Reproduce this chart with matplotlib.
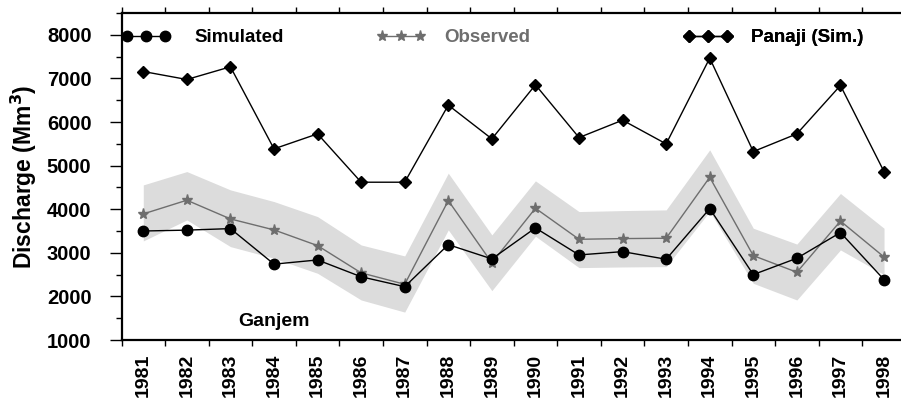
import numpy as np
import matplotlib
matplotlib.use("Agg")
import matplotlib.pyplot as plt
from matplotlib.lines import Line2D
from matplotlib.ticker import FixedLocator, MultipleLocator

plt.rcParams["font.family"] = ["Liberation Sans", "DejaVu Sans"]
plt.rcParams["font.weight"] = "bold"

# ========= DATA =========
years = list(range(1981, 1999))

simulated = [3500, 3520, 3555, 2740, 2836, 2450, 2223, 3187, 2860, 3571,
             2951, 3027, 2852, 4014, 2500, 2875, 3465, 2385]
observed = [3892, 4206, 3777, 3525, 3165, 2540, 2278, 4197, 2770, 4022,
            3310, 3326, 3334, 4732, 2935, 2554, 3728, 2905]
band_upper = [4557, 4863, 4443, 4175, 3830, 3180, 2928, 4826, 3410, 4650,
              3946, 3968, 3984, 5361, 3563, 3200, 4360, 3563]
band_lower = [3272, 3754, 3142, 2875, 2530, 1918, 1640, 3525, 2132, 3380,
              2660, 2675, 2683, 3950, 2300, 1918, 3066, 2500]
panaji = [7158, 6975, 7266, 5384, 5728, 4619, 4619, 6387, 5613, 6853,
          5643, 6042, 5498, 7465, 5322, 5728, 6838, 4863]

FS = 13.5
GRAY = "#6e6e6e"

fig = plt.figure(figsize=(9.01, 4.0), dpi=100)
ax = fig.add_axes([121.5 / 901, 60 / 400, (905.8 - 121.5) / 901, 327 / 400])

ax.fill_between(years, band_lower, band_upper, color="#dcdcdc", linewidth=0, zorder=1)
ax.plot(years, observed, color=GRAY, lw=1, marker="*", ms=8, mfc=GRAY, mec=GRAY, zorder=3)
ax.plot(years, simulated, color="black", lw=1, marker="o", ms=7.5, zorder=4)
ax.plot(years, panaji, color="black", lw=1, marker="D", ms=6, zorder=4)

ax.text(1984, 1430, "Ganjem", fontsize=14, fontweight="bold", ha="center", va="center")

ax.set_xlim(1980.5, 1998.5)
ax.set_ylim(1000, 8500)

# axis styling
for side in ["left", "bottom", "top"]:
    ax.spines[side].set_linewidth(1.6)
ax.spines["right"].set_visible(False)

ax.xaxis.set_major_locator(FixedLocator(years))
ax.xaxis.set_minor_locator(FixedLocator(np.arange(1980.5, 1999, 1.0)))
ax.set_xticklabels([str(y) for y in years], rotation=90, fontsize=14, fontweight="bold")
ax.tick_params(axis="x", which="major", length=0, pad=10)
ax.tick_params(axis="x", which="minor", length=4.5, width=1, direction="out", top=True, bottom=True)

ax.yaxis.set_major_locator(MultipleLocator(1000))
ax.yaxis.set_minor_locator(MultipleLocator(500))
ax.set_yticks(range(1000, 8001, 1000))
ax.set_yticklabels([str(v) for v in range(1000, 8001, 1000)], fontsize=14.5, fontweight="bold")
ax.tick_params(axis="y", which="major", length=8.6, width=1, pad=13)
ax.tick_params(axis="y", which="minor", length=4.5, width=1)

ax.set_ylabel("Discharge (Mm$^\\mathbf{3}$)", fontsize=16.5, fontweight="bold", labelpad=6)

# legend: three separate entries across the top
entries = [
    (Line2D([], [], color="black", lw=1, marker="o", ms=7.5), "Simulated", "black", 0.0, 1.3),
    (Line2D([], [], color=GRAY, lw=1, marker="*", ms=8, mfc=GRAY, mec=GRAY), "Observed", GRAY, 0.325, 1.0),
    (Line2D([], [], color="black", lw=1, marker="D", ms=6), "Panaji (Sim.)", "black", 0.717, 1.0),
]
for handle, label, col, xpos, tpad in entries:
    leg = ax.legend([handle], [label], loc="center left", bbox_to_anchor=(xpos, 0.925),
                    frameon=False, numpoints=3, handlelength=2.6, handletextpad=tpad,
                    borderaxespad=0, borderpad=0, prop={"size": FS, "weight": "bold"})
    for t in leg.get_texts():
        t.set_color(col)
    ax.add_artist(leg)

fig.savefig("out.png", dpi=100)
